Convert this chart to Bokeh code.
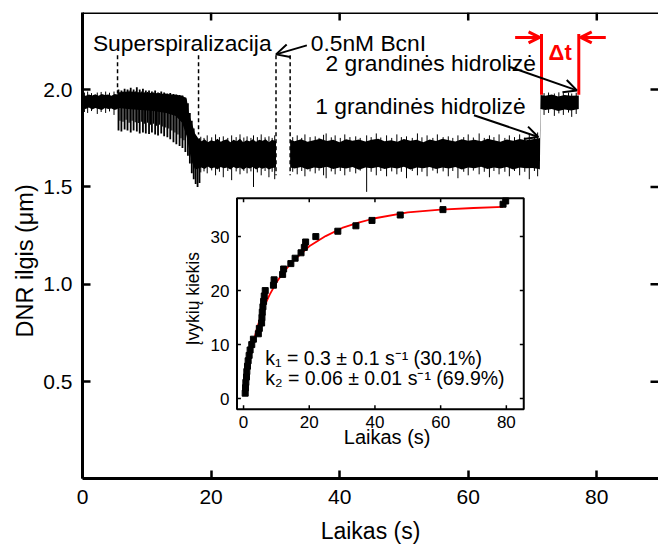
import math
from bokeh.plotting import figure
from bokeh.models import Range1d, FixedTicker, Label, Arrow, OpenHead, Span, Title
from bokeh.core.properties import value
from bokeh.embed import file_html
from bokeh.resources import INLINE

FONT = "Liberation Sans"

# ---------------- main axes ----------------
x_ticks = [0, 20, 40, 60, 80]
y_ticks = [0.5, 1.0, 1.5, 2.0]
y_tick_labels = ["0.5", "1.0", "1.5", "2.0"]

# ---------------- main trace (envelopes) ----------------
seg1_x = [0.0, 0.5, 1.0, 1.5, 2.0, 2.5, 3.0, 3.5, 4.0, 4.5, 5.0, 5.45,
          5.55, 7.0, 9.0, 11.0, 13.0, 14.5, 15.5, 16.2, 16.6, 17.0, 17.5, 18.05,
          18.5, 19.0, 19.5, 20.0, 20.5, 21.0, 21.5, 22.0, 22.5, 23.0, 23.5, 24.0,
          24.5, 25.0, 25.5, 26.0, 26.5, 27.0, 27.5, 28.0, 28.5, 29.0, 29.5, 30.1]
seg1_hi = [1.972, 1.968, 1.975, 1.970, 1.976, 1.968, 1.978, 1.972, 1.975, 1.968, 1.978, 1.975,
           1.985, 1.990, 1.985, 1.983, 1.978, 1.974, 1.968, 1.955, 1.870, 1.830, 1.775, 1.748,
           1.735, 1.745, 1.730, 1.740, 1.735, 1.748, 1.732, 1.740, 1.745, 1.730, 1.742, 1.735,
           1.748, 1.730, 1.740, 1.735, 1.745, 1.732, 1.742, 1.738, 1.745, 1.730, 1.742, 1.735]
seg1_lo = [1.905, 1.900, 1.908, 1.898, 1.905, 1.900, 1.895, 1.906, 1.900, 1.903, 1.895, 1.900,
           1.905, 1.900, 1.895, 1.890, 1.880, 1.865, 1.830, 1.760, 1.690, 1.630, 1.590, 1.595,
           1.600, 1.592, 1.605, 1.595, 1.600, 1.590, 1.603, 1.596, 1.600, 1.590, 1.602, 1.595,
           1.600, 1.588, 1.600, 1.595, 1.603, 1.590, 1.600, 1.594, 1.600, 1.590, 1.598, 1.600]

seg2_x = [32.3, 33, 34, 35, 36, 37, 38, 39, 40, 41, 42, 43, 44, 45, 46, 47, 48, 49, 50, 51,
          52, 53, 54, 55, 56, 57, 58, 59, 60, 61, 62, 63, 64, 65, 66, 67, 68, 69, 70, 71,
          71.15, 71.25, 72, 73, 74, 75, 76, 77.2]
seg2_hi = [1.742, 1.735, 1.745, 1.732, 1.740, 1.748, 1.736, 1.742, 1.730, 1.745, 1.738, 1.744,
           1.733, 1.742, 1.748, 1.735, 1.740, 1.732, 1.746, 1.738, 1.742, 1.730, 1.744, 1.736,
           1.748, 1.740, 1.733, 1.745, 1.738, 1.742, 1.735, 1.748, 1.740, 1.732, 1.744, 1.738,
           1.746, 1.740, 1.745, 1.750, 1.752, 1.972, 1.968, 1.975, 1.965, 1.972, 1.968, 1.970]
seg2_lo = [1.600, 1.595, 1.603, 1.590, 1.600, 1.596, 1.604, 1.592, 1.600, 1.595, 1.602, 1.588,
           1.600, 1.596, 1.603, 1.592, 1.600, 1.595, 1.604, 1.590, 1.600, 1.596, 1.602, 1.592,
           1.600, 1.595, 1.603, 1.590, 1.600, 1.596, 1.604, 1.592, 1.600, 1.595, 1.602, 1.590,
           1.600, 1.596, 1.598, 1.592, 1.590, 1.900, 1.895, 1.900, 1.890, 1.898, 1.893, 1.900]

# supercoiling oscillation spikes (time, top, bottom)
osc_x = [5.6, 6.05, 6.55, 7.0, 7.5, 7.95, 8.45, 8.9, 9.4, 9.85, 10.35, 10.8, 11.3, 11.75,
         12.25, 12.7, 13.2, 13.65, 14.15, 14.6, 15.1, 15.55, 16.0,
         16.4, 16.7, 17.0, 17.3, 17.6, 17.9, 18.2]
osc_top = [2.000, 1.995, 2.005, 2.000, 2.010, 2.000, 2.012, 2.000, 2.005, 1.995, 1.995, 1.990,
           1.995, 1.985, 1.990, 1.985, 1.980, 1.982, 1.978, 1.975, 1.972, 1.970, 1.960,
           1.930, 1.880, 1.840, 1.800, 1.760, 1.745, 1.750]
osc_bot = [1.790, 1.785, 1.795, 1.790, 1.780, 1.790, 1.785, 1.775, 1.780, 1.775, 1.772, 1.780,
           1.770, 1.765, 1.775, 1.760, 1.755, 1.745, 1.730, 1.720, 1.710, 1.700, 1.680,
           1.660, 1.620, 1.570, 1.540, 1.515, 1.500, 1.520]
# thinner secondary oscillation strokes between the main ones (time, top, bottom)
osc2_x = [5.83, 6.3, 6.78, 7.25, 7.72, 8.2, 8.68, 9.15, 9.62, 10.1, 10.57, 11.05, 11.52,
          12.0, 12.48, 12.95, 13.42, 13.9, 14.38, 14.85, 15.32, 15.78]
osc2_top = [1.985, 1.990, 1.988, 1.995, 1.990, 1.992, 1.985, 1.990, 1.985, 1.988, 1.982, 1.985,
            1.980, 1.982, 1.978, 1.980, 1.975, 1.972, 1.970, 1.968, 1.965, 1.960]
osc2_bot = [1.840, 1.835, 1.845, 1.830, 1.840, 1.832, 1.828, 1.835, 1.825, 1.830, 1.820, 1.825,
            1.815, 1.820, 1.810, 1.805, 1.800, 1.790, 1.780, 1.770, 1.750, 1.740]

# noise hairs sticking out of the bands (time, top, bottom)
hair_x = [0.3, 0.8, 1.4, 2.3, 2.9, 3.6, 4.2, 4.9,
          18.4, 18.9, 19.4, 20.1, 20.7, 21.3, 21.9, 22.6, 23.2, 23.9, 24.5, 25.1, 25.6, 26.2,
          26.6, 27.2, 27.8, 28.4, 29.0, 29.5, 29.9,
          32.7, 33.4, 34.1, 34.6, 35.4, 36.2, 36.8, 37.5, 37.9, 38.7, 39.3, 40.1, 40.8, 41.6,
          42.5, 43.2, 44.2, 44.9, 45.7, 46.4, 47.3, 48.1, 48.9, 49.6, 50.4, 51.3, 52.1, 52.8,
          53.6, 54.5, 55.2, 56.1, 56.9, 57.6, 58.4, 59.3, 60.0, 60.8, 61.7, 62.5, 63.3, 64.0,
          64.8, 65.7, 66.4, 67.2, 68.0, 68.8, 69.5, 70.3, 70.8,
          71.8, 72.5, 73.4, 74.1, 74.8, 75.6, 76.1, 76.8]
hair_hi = [1.985, 1.990, 1.982, 1.985, 1.988, 1.990, 1.984, 1.990,
           1.758, 1.752, 1.765, 1.755, 1.770, 1.756, 1.760, 1.752, 1.765, 1.756, 1.770, 1.754,
           1.760, 1.752, 1.765, 1.756, 1.770, 1.755, 1.760, 1.752, 1.765,
           1.756, 1.765, 1.752, 1.770, 1.756, 1.760, 1.752, 1.768, 1.775, 1.755, 1.765, 1.752,
           1.770, 1.756, 1.760, 1.752, 1.765, 1.756, 1.775, 1.754, 1.765, 1.752, 1.770, 1.756,
           1.760, 1.752, 1.775, 1.755, 1.765, 1.752, 1.770, 1.756, 1.760, 1.752, 1.765, 1.756,
           1.770, 1.754, 1.775, 1.752, 1.765, 1.756, 1.770, 1.752, 1.765, 1.756, 1.770, 1.754,
           1.775, 1.752, 1.780,
           1.982, 1.985, 1.980, 1.986, 1.982, 1.985, 1.980, 1.984]
hair_lo = [1.885, 1.880, 1.890, 1.875, 1.885, 1.880, 1.888, 1.870,
           1.575, 1.580, 1.570, 1.585, 1.560, 1.578, 1.550, 1.582, 1.535, 1.580, 1.565, 1.583,
           1.570, 1.580, 1.500, 1.575, 1.560, 1.582, 1.550, 1.578, 1.540,
           1.578, 1.565, 1.582, 1.555, 1.580, 1.570, 1.584, 1.560, 1.545, 1.580, 1.565, 1.582,
           1.560, 1.578, 1.570, 1.584, 1.475, 1.578, 1.560, 1.582, 1.555, 1.580, 1.565, 1.578,
           1.545, 1.582, 1.560, 1.578, 1.555, 1.584, 1.570, 1.580, 1.555, 1.582, 1.545, 1.578,
           1.560, 1.584, 1.565, 1.578, 1.550, 1.582, 1.565, 1.578, 1.555, 1.582, 1.560, 1.578,
           1.540, 1.582, 1.555,
           1.870, 1.880, 1.865, 1.878, 1.870, 1.882, 1.860, 1.875]

# dashed event markers
dash_x = [5.45, 18.05, 30.1, 32.3]
dash_top = [2.176, 2.176, 2.176, 2.176]
dash_bot = [1.98, 1.77, 1.56, 1.56]

# ---------------- inset data ----------------
ins_x_ticks = [0, 20, 40, 60, 80]
ins_y_ticks = [0, 10, 20, 30]
ev_t = [0.5, 0.6, 0.7, 0.9, 1.0, 1.2, 1.4, 1.7, 2.0, 2.5, 3.0, 4.5, 4.8, 5.5, 5.6, 5.7,
        5.9, 6.1, 6.3, 6.6, 9.1, 9.3, 11.9, 12.2, 14.4, 15.7, 17.5, 18.5, 18.9, 22.0,
        28.7, 34.2, 39.1, 47.7, 60.7, 79.0, 79.8]
ev_n = [1, 2, 3, 4, 5, 6, 7, 8, 9, 10, 11, 12, 13, 14, 15, 16, 17, 18, 19, 20, 21, 22,
        23, 24, 25, 26, 27, 28, 29, 30, 31, 32, 33, 34, 35, 36, 36.6]
fit_t = [0.6, 1.0, 1.5, 2.0, 3.0, 4.0, 5.0, 6.0, 7.0, 8.0, 10.0, 12.0, 15.0, 18.0, 20.0,
         25.0, 30.0, 35.0, 40.0, 50.0, 60.0, 70.0, 79.0]
fit_n = [2.6, 4.2, 6.0, 7.7, 10.5, 12.8, 14.8, 16.5, 18.0, 19.3, 21.5, 23.3, 25.4, 27.1, 28.2,
         30.1, 31.6, 32.6, 33.4, 34.5, 35.0, 35.3, 35.5]

# ---------------- figure ----------------
xr = Range1d(0, 89.6)
yr = Range1d(0.003, 2.396)
p = figure(width=658, height=546, x_range=xr, y_range=yr,
           output_backend="svg", toolbar_location=None,
           min_border_left=82, min_border_right=0, min_border_top=12, min_border_bottom=67,
           outline_line_color=None, background_fill_color="white", border_fill_color="white")
p.xgrid.visible = False
p.ygrid.visible = False

def style_axis(ax):
    ax.axis_line_width = 3
    ax.axis_line_color = "black"
    ax.major_tick_in = 8
    ax.major_tick_out = 0
    ax.major_tick_line_width = 2.5
    ax.minor_tick_line_color = None
    ax.major_label_text_font = FONT
    ax.major_label_text_color = "black"
    ax.major_label_text_font_size = "21px"

bx = p.below[0]
bx.ticker = FixedTicker(ticks=x_ticks)
style_axis(bx)
bx.major_label_standoff = 11
bx.axis_label = "Laikas (s)"
bx.axis_label_text_font = FONT
bx.axis_label_text_font_size = "23px"
bx.axis_label_text_font_style = "normal"
bx.axis_label_text_color = "black"
bx.axis_label_standoff = 11

ly = p.left[0]
ly.ticker = FixedTicker(ticks=y_ticks)
ly.major_label_overrides = {t: s for t, s in zip(y_ticks, y_tick_labels)}
style_axis(ly)
ly.major_label_standoff = 10

# y-axis title on the left side, starting ~141 px above the frame bottom (as in the reference)
p.add_layout(Title(text="DNR ilgis (μm)", align="left", offset=141, standoff=6,
                   text_font=FONT, text_font_size="23.5px", text_font_style="normal",
                   text_color="black"), "left")

# top frame line and mirrored inward ticks (top and right)
p.add_layout(Span(location=yr.end, dimension="width", line_color="black", line_width=3))
top_len = 8 / 195.3
right_len = 8 / 6.425
p.segment(x0=x_ticks, y0=[yr.end] * len(x_ticks), x1=x_ticks, y1=[yr.end - top_len] * len(x_ticks),
          line_color="black", line_width=2.5)
p.segment(x0=[xr.end] * len(y_ticks), y0=y_ticks, x1=[xr.end - right_len] * len(y_ticks), y1=y_ticks,
          line_color="black", line_width=2.5)

# trace
p.varea(x=seg1_x, y1=seg1_lo, y2=seg1_hi, fill_color="black")
p.varea(x=seg2_x, y1=seg2_lo, y2=seg2_hi, fill_color="black")
p.segment(x0=osc2_x, y0=osc2_top, x1=osc2_x, y1=osc2_bot, line_color="black", line_width=1.2)
p.segment(x0=osc_x, y0=osc_top, x1=osc_x, y1=osc_bot, line_color="black", line_width=1.8)
p.segment(x0=hair_x, y0=hair_hi, x1=hair_x, y1=hair_lo, line_color="black", line_width=1.0)
p.segment(x0=dash_x, y0=dash_top, x1=dash_x, y1=dash_bot, line_color="black",
          line_width=1.5, line_dash="4 3")

# red Δt marker
dt_x = [71.4, 77.2]
p.segment(x0=dt_x, y0=[1.974, 1.974], x1=dt_x, y1=[2.286, 2.286], line_color="red", line_width=3)
p.add_layout(Arrow(end=OpenHead(size=11, line_color="red", line_width=3), x_start=67.3, y_start=2.268,
                   x_end=71.1, y_end=2.268, line_color="red", line_width=3))
p.add_layout(Arrow(end=OpenHead(size=11, line_color="red", line_width=3), x_start=81.4, y_start=2.268,
                   x_end=77.5, y_end=2.268, line_color="red", line_width=3))
p.add_layout(Label(x=72.5, y=2.193, text="Δt", text_font=FONT, text_font_size="22px",
                   text_font_style="bold", text_color="red", text_baseline="alphabetic"))

# black annotation arrows
for xs, ys, xe, ye in [(34.9, 2.227, 30.1, 2.181), (66.5, 2.116, 76.9, 1.996), (60.9, 1.868, 70.9, 1.757)]:
    p.add_layout(Arrow(end=OpenHead(size=13, line_color="black", line_width=2), x_start=xs, y_start=ys,
                       x_end=xe, y_end=ye, line_color="black", line_width=2))

for tx_, ty_, tt in [(1.62, 2.237, "Superspiralizacija"), (35.5, 2.237, "0.5nM BcnI"),
                     (37.8, 2.136, "2 grandinės hidrolizė"), (36.2, 1.914, "1 grandinės hidrolizė")]:
    p.add_layout(Label(x=tx_, y=ty_, text=tt, text_font=FONT, text_font_size="22.8px",
                       text_color="black", text_baseline="alphabetic", text_align="left"))

# ---------------- inset ----------------
ins_xr = Range1d(-2.0, 85.3)
ins_yr = Range1d(-2.0, 37.1)
xy = p.subplot(x_source=ins_xr, y_source=ins_yr,
               x_target=Range1d(24.03, 68.64), y_target=Range1d(0.358, 1.442))
xy.quad(left=[ins_xr.start], right=[ins_xr.end], bottom=[ins_yr.start], top=[ins_yr.end],
        fill_color="white", line_color="black", line_width=2)
nx = len(ins_x_ticks)
ny = len(ins_y_ticks)
xy.segment(x0=ins_x_ticks, y0=[ins_yr.start] * nx, x1=ins_x_ticks, y1=[ins_yr.start + 0.75] * nx,
           line_color="black", line_width=1.5)
xy.segment(x0=ins_x_ticks, y0=[ins_yr.end] * nx, x1=ins_x_ticks, y1=[ins_yr.end - 0.75] * nx,
           line_color="black", line_width=1.5)
xy.segment(x0=[ins_xr.start] * ny, y0=ins_y_ticks, x1=[ins_xr.start + 1.2] * ny, y1=ins_y_ticks,
           line_color="black", line_width=1.5)
xy.segment(x0=[ins_xr.end] * ny, y0=ins_y_ticks, x1=[ins_xr.end - 1.2] * ny, y1=ins_y_ticks,
           line_color="black", line_width=1.5)
xy.text(x=ins_x_ticks, y=[-4.3] * nx, text=[str(t) for t in ins_x_ticks], text_align="center",
        text_baseline="middle", text_font=value(FONT), text_font_size="17px", text_color="black")
xy.text(x=[-4.3] * ny, y=ins_y_ticks, text=[str(t) for t in ins_y_ticks], text_align="right",
        text_baseline="middle", text_font=value(FONT), text_font_size="17px", text_color="black")
xy.text(x=[43.7], y=[-7.2], text=["Laikas (s)"], text_align="center", text_baseline="middle",
        text_font=value(FONT), text_font_size="20px", text_color="black")
xy.text(x=[-15.4], y=[18.5], text=["Įvykių kiekis"], angle=math.pi / 2, text_align="center",
        text_baseline="middle", text_font=value(FONT), text_font_size="17.5px", text_color="black")

xy.line(x=fit_t, y=fit_n, line_color="red", line_width=1.8)
xy.scatter(x=ev_t, y=ev_n, marker="square", size=6, fill_color="black", line_color="black")

xy.text(x=[6.6, 6.6], y=[7.6, 3.9],
        text=["k₁ = 0.3 ± 0.1 s⁻¹ (30.1%)", "k₂ = 0.06 ± 0.01 s⁻¹ (69.9%)"],
        text_align="left", text_baseline="alphabetic", text_font=value(FONT),
        text_font_size="19.5px", text_color="black")

open("out.html", "w").write(file_html(p, INLINE))
